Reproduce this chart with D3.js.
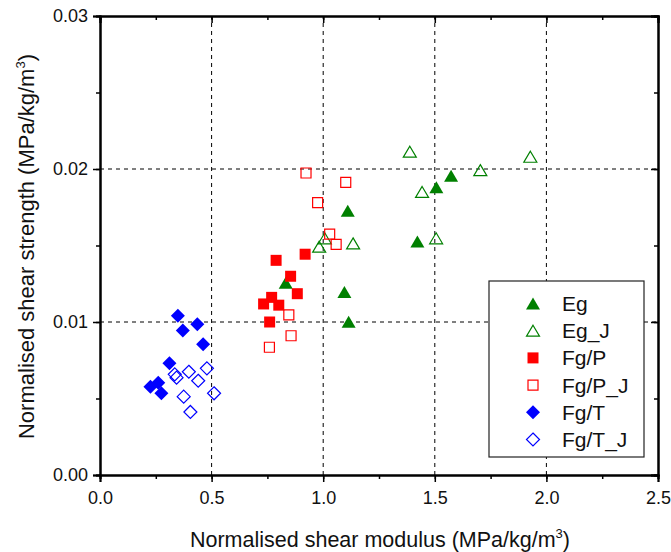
<!DOCTYPE html>
<html>
<head>
<meta charset="utf-8">
<script src="https://cdn.jsdelivr.net/npm/d3@7"></script>
<style>
body { margin: 0; background: white; }
svg { font-family: Arial, "Liberation Sans", sans-serif; }
.grid line { stroke: black; stroke-width: 1; stroke-dasharray: 4,4; }
</style>
</head>
<body>
<div id="chart"></div>
<script>
// values: [modulus, strength]
var egData = [[1.110,0.01727],[0.832,0.01257],[1.095,0.01196],[1.114,0.01002],[1.422,0.01526],[1.507,0.01880],[1.573,0.01956]];
var egJData = [[1.388,0.02113],[1.443,0.01850],[1.506,0.01547],[1.704,0.01993],[1.928,0.02080],[1.007,0.01547],[0.982,0.01492],[1.134,0.01514]];
var fgPData = [[0.789,0.01403],[0.919,0.01443],[0.854,0.01299],[0.884,0.01185],[0.769,0.01161],[0.733,0.01118],[0.801,0.01110],[0.760,0.01000]];
var fgPJData = [[0.923,0.01974],[1.101,0.01913],[0.975,0.01780],[1.029,0.01575],[1.058,0.01508],[0.846,0.01046],[0.856,0.00910],[0.759,0.00835]];
var fgTData = [[0.349,0.01041],[0.371,0.00944],[0.436,0.00985],[0.462,0.00854],[0.311,0.00730],[0.226,0.00577],[0.261,0.00603],[0.275,0.00534]];
var fgTJData = [[0.335,0.00658],[0.343,0.00636],[0.398,0.00675],[0.440,0.00616],[0.479,0.00697],[0.375,0.00512],[0.511,0.00534],[0.405,0.00412]];

var seriesNames = ["Eg", "Eg_J", "Fg/P", "Fg/P_J", "Fg/T", "Fg/T_J"];
var xTicks = [0, 0.5, 1.0, 1.5, 2.0, 2.5];
var yTicks = [0, 0.01, 0.02, 0.03];

var width = 671, height = 552;
var margin = {left: 100, right: 13, top: 16, bottom: 77};

var series = [
    {name: seriesNames[0], data: egData,   shape: "tri",  color: "#008000", filled: true},
    {name: seriesNames[1], data: egJData,  shape: "tri",  color: "#008000", filled: false},
    {name: seriesNames[2], data: fgPData,  shape: "sq",   color: "#ff0000", filled: true},
    {name: seriesNames[3], data: fgPJData, shape: "sq",   color: "#ff0000", filled: false},
    {name: seriesNames[4], data: fgTData,  shape: "dia",  color: "#0000ff", filled: true},
    {name: seriesNames[5], data: fgTJData, shape: "dia",  color: "#0000ff", filled: false}
];

function markerPath(shape, filled) {
    if (shape == "tri") {
        var w = filled ? 7 : 6.5, h = filled ? 6 : 5.5;
        return `M0,${-h}L${w},${h}L${-w},${h}Z`;
    }
    if (shape == "sq") {
        var s = filled ? 5.5 : 5;
        return `M${-s},${-s}H${s}V${s}H${-s}Z`;
    }
    var d = filled ? 7 : 6.5;
    return `M0,${-d}L${d},0L0,${d}L${-d},0Z`;
}

var svg = d3.select("#chart").append("svg")
    .attr("width", width)
    .attr("height", height);

var x = d3.scaleLinear().domain([0, 2.5]).range([margin.left, width - margin.right]);
var y = d3.scaleLinear().domain([0, 0.03]).range([height - margin.bottom, margin.top]);

// grid
var grid = svg.append("g").attr("class", "grid");
grid.selectAll("line.gx")
    .data(xTicks.slice(1, -1))
    .enter().append("line")
    .attr("x1", d => x(d)).attr("x2", d => x(d))
    .attr("y1", y(0)).attr("y2", y(0.03));
grid.selectAll("line.gy")
    .data(yTicks.slice(1, -1))
    .enter().append("line")
    .attr("y1", d => y(d)).attr("y2", d => y(d))
    .attr("x1", x(0)).attr("x2", x(2.5));

// axes
var xMinor = d3.range(0, 2.51, 0.25);
var yMinor = d3.range(0, 0.0301, 0.005);

var xAxis = svg.append("g")
    .attr("transform", `translate(0,${y(0)})`)
    .call(d3.axisBottom(x).tickValues(xTicks).tickFormat(d3.format(".1f")).tickSize(7).tickPadding(9));
svg.append("g")
    .attr("transform", `translate(0,${y(0)})`)
    .call(d3.axisBottom(x).tickValues(xMinor).tickFormat("").tickSize(4));
svg.append("g")
    .attr("transform", `translate(0,${y(0.03)})`)
    .call(d3.axisBottom(x).tickValues(xTicks).tickFormat("").tickSize(7));
svg.append("g")
    .attr("transform", `translate(0,${y(0.03)})`)
    .call(d3.axisBottom(x).tickValues(xMinor).tickFormat("").tickSize(4));

var yAxis = svg.append("g")
    .attr("transform", `translate(${x(0)},0)`)
    .call(d3.axisLeft(y).tickValues(yTicks).tickFormat(d3.format(".2f")).tickSize(7).tickPadding(5));
svg.append("g")
    .attr("transform", `translate(${x(0)},0)`)
    .call(d3.axisLeft(y).tickValues(yMinor).tickFormat("").tickSize(4));
svg.append("g")
    .attr("transform", `translate(${x(2.5)},0)`)
    .call(d3.axisLeft(y).tickValues(yTicks).tickFormat("").tickSize(7));
svg.append("g")
    .attr("transform", `translate(${x(2.5)},0)`)
    .call(d3.axisLeft(y).tickValues(yMinor).tickFormat("").tickSize(4));

svg.selectAll(".domain").attr("stroke-width", 2).attr("stroke", "black");
svg.selectAll(".tick line").attr("stroke-width", 1.5).attr("stroke", "black");
svg.selectAll(".tick text").attr("font-size", 18).attr("fill", "#111").attr("font-family", "Arial, 'Liberation Sans', sans-serif");

// axis titles
var xt = svg.append("text")
    .attr("x", (x(0) + x(2.5)) / 2 + 1)
    .attr("y", 547)
    .attr("text-anchor", "middle")
    .attr("font-size", 21.5)
    .attr("fill", "#111");
xt.append("tspan").text("Normalised shear modulus (MPa/kg/m");
xt.append("tspan").attr("font-size", 13).attr("dy", -9).text("3");
xt.append("tspan").attr("dy", 9).text(")");

var yt = svg.append("text")
    .attr("transform", `translate(34,${(y(0) + y(0.03)) / 2 + 1}) rotate(-90)`)
    .attr("text-anchor", "middle")
    .attr("font-size", 22)
    .attr("fill", "#111");
yt.append("tspan").text("Normalised shear strength (MPa/kg/m");
yt.append("tspan").attr("font-size", 13).attr("dy", -9).text("3");
yt.append("tspan").attr("dy", 9).text(")");

// points
series.forEach(function(s) {
    svg.append("g").selectAll("path")
        .data(s.data)
        .enter().append("path")
        .attr("transform", d => `translate(${x(d[0])},${y(d[1])})`)
        .attr("d", markerPath(s.shape, s.filled))
        .attr("fill", s.filled ? s.color : "white")
        .attr("fill-opacity", s.filled ? 1 : 0)
        .attr("stroke", s.color)
        .attr("stroke-width", s.filled ? 0 : 1.2);
});

// legend
var lg = svg.append("g").attr("transform", "translate(489,281)");
lg.append("rect")
    .attr("width", 155).attr("height", 176)
    .attr("fill", "white").attr("stroke", "#222").attr("stroke-width", 1.2);
var items = lg.selectAll("g.item")
    .data(series)
    .enter().append("g")
    .attr("transform", (d, i) => `translate(44,${22.5 + i * 27.2})`);
items.append("path")
    .attr("d", d => markerPath(d.shape, d.filled))
    .attr("fill", d => d.filled ? d.color : "white")
    .attr("stroke", d => d.color)
    .attr("stroke-width", d => d.filled ? 0 : 1.2);
items.append("text")
    .attr("x", 29)
    .attr("dy", "0.36em")
    .attr("font-size", 21)
    .attr("fill", "#111")
    .text(d => d.name);
</script>
</body>
</html>
